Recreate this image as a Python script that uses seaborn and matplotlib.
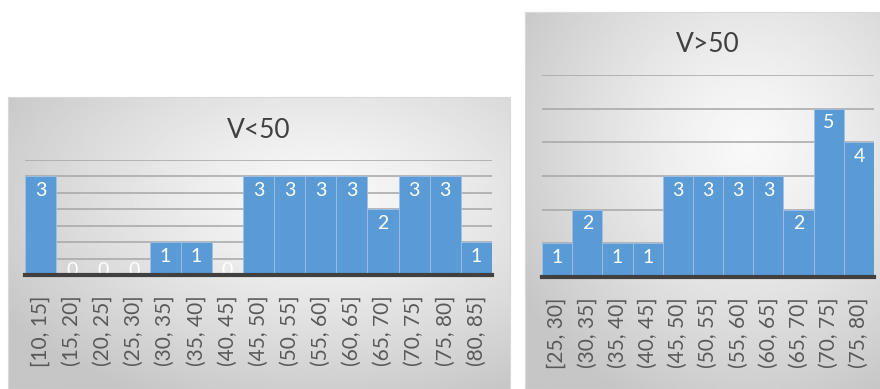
import numpy as np
import pandas as pd
import matplotlib
matplotlib.use('Agg')
import matplotlib.pyplot as plt
import seaborn as sns

# ── data ──
left_bins = ['[10, 15]', '(15, 20]', '(20, 25]', '(25, 30]', '(30, 35]', '(35, 40]',
             '(40, 45]', '(45, 50]', '(50, 55]', '(55, 60]', '(60, 65]', '(65, 70]',
             '(70, 75]', '(75, 80]', '(80, 85]']
left_counts = [3, 0, 0, 0, 1, 1, 0, 3, 3, 3, 3, 2, 3, 3, 1]

right_bins = ['[25, 30]', '(30, 35]', '(35, 40]', '(40, 45]', '(45, 50]', '(50, 55]',
              '(55, 60]', '(60, 65]', '(65, 70]', '(70, 75]', '(75, 80]']
right_counts = [1, 2, 1, 1, 3, 3, 3, 3, 2, 5, 4]

sns.set_style('white')
plt.rcParams['font.family'] = ['Lato', 'DejaVu Sans']

BAR = '#5b9bd5'
TXT = '#595959'

fig = plt.figure(figsize=(8.8, 3.89), dpi=100)


def panel_bg(rect):
    bg = fig.add_axes(rect, zorder=0)
    h, w = 200, 300
    yy, xx = np.mgrid[0:h, 0:w]
    cx, cy = 0.62 * w, 0.35 * h
    r = np.sqrt(((xx - cx) / w) ** 2 + ((yy - cy) / h) ** 2)
    r = np.clip(r / 0.75, 0, 1)
    grad = 0.975 - 0.2 * r ** 1.3
    bg.imshow(grad, cmap='gray', vmin=0, vmax=1, aspect='auto',
              extent=(0, 1, 0, 1), interpolation='bilinear')
    bg.set_xticks([])
    bg.set_yticks([])
    for s in bg.spines.values():
        s.set_color('#d9d9d9')
        s.set_linewidth(0.8)
    return bg


def hist_panel(rect, cats, vals, ymax, step, title, title_y):
    ax = fig.add_axes(rect, zorder=2)
    ax.patch.set_alpha(0)
    df = pd.DataFrame({'bin': cats, 'n': vals})
    sns.barplot(data=df, x='bin', y='n', color=BAR, saturation=1, width=1,
                edgecolor='#9fc0e6', linewidth=0.6, ax=ax, zorder=3)
    ax.set_ylim(0, ymax)
    ax.set_yticks(np.arange(0, ymax + 0.01, step))
    ax.yaxis.grid(True, color='#a6a6a6', linewidth=1.1, zorder=1)
    ax.set_axisbelow(True)
    ax.set_yticklabels([])
    ax.tick_params(axis='y', length=0)
    ax.tick_params(axis='x', length=0, pad=15, labelsize=15, labelcolor=TXT,
                   labelrotation=90)
    for s in ['top', 'right', 'left']:
        ax.spines[s].set_visible(False)
    ax.spines['bottom'].set_color('#404040')
    ax.spines['bottom'].set_linewidth(3)
    ax.spines['bottom'].set_zorder(5)
    ax.set_xlabel('')
    ax.set_ylabel('')
    for i, v in enumerate(vals):
        if v > 0:
            ax.annotate(str(v), (i, v), xytext=(0, -4), textcoords='offset points',
                        ha='center', va='top', color='white', fontsize=14, zorder=4)
        else:
            ax.annotate(str(v), (i, 0), xytext=(0, -3), textcoords='offset points',
                        ha='center', va='bottom', color='white', fontsize=14, zorder=4)
    fig.text(rect[0] + rect[2] / 2, title_y, title, ha='center', va='center',
             fontsize=19, color='#404040')
    return ax


panel_bg([8 / 880, 0, 502 / 880, 292 / 389])
panel_bg([525 / 880, 0, 360 / 880, 377 / 389])

hist_panel([25 / 880, 114 / 389, 467 / 880, 115 / 389], left_bins, left_counts,
           3.5, 0.5, 'V<50', (389 - 130) / 389)
hist_panel([542 / 880, 112 / 389, 332 / 880, 202 / 389], right_bins, right_counts,
           6, 1, 'V>50', (389 - 45) / 389)

fig.savefig('out.png', dpi=100)
